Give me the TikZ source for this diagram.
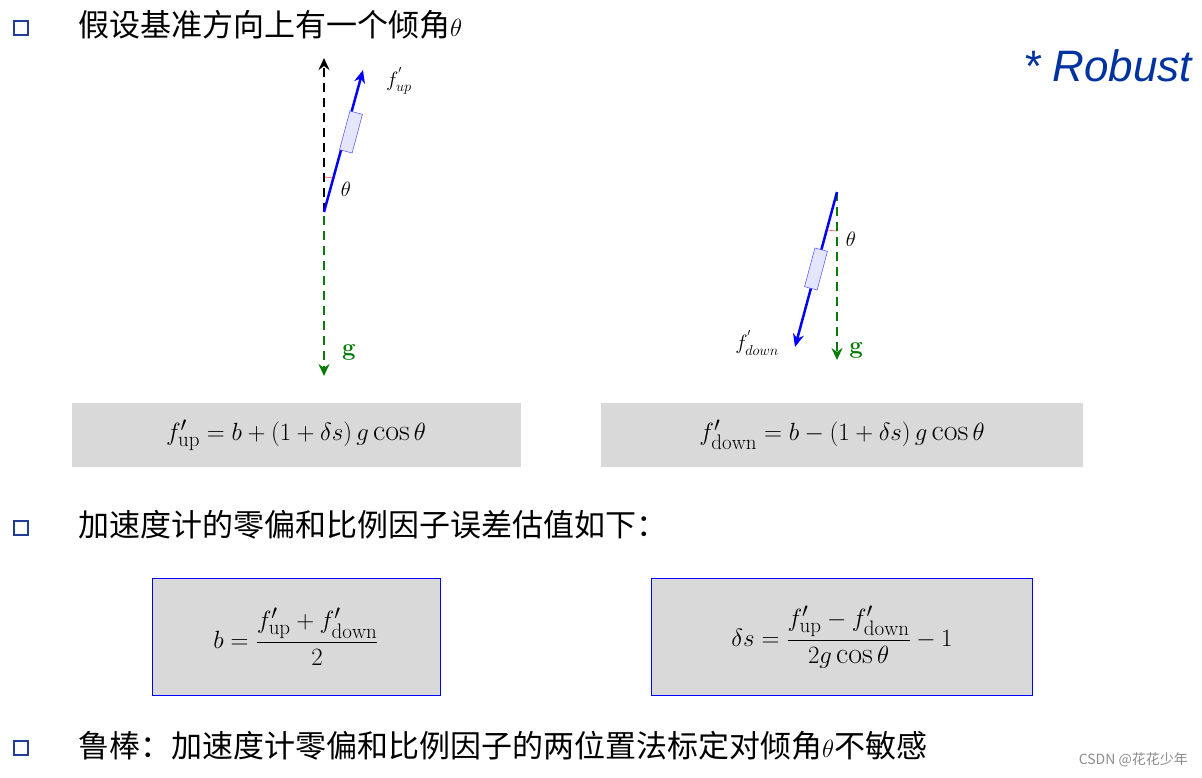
\documentclass[tikz,border=0pt]{standalone}
\usepackage{amsmath}
\usepackage{fontspec}
\newfontfamily\cjk{Noto Sans CJK SC}
\newfontfamily\lib{Liberation Sans}
\usetikzlibrary{arrows.meta}
\definecolor{bblue}{HTML}{1F3C9A}
\definecolor{rblue}{HTML}{0033A0}
\definecolor{gg}{HTML}{0A7A0A}
\begin{document}
\begin{tikzpicture}[x=1pt,y=-1pt,
  bul/.style={draw=bblue,line width=2.2pt,minimum size=14pt,inner sep=0pt},
  txt/.style={anchor=west,font=\cjk\fontsize{31}{36}\selectfont,inner sep=0pt},
  frm/.style={fill=black!15,inner sep=0pt},
  beq/.style={fill=black!15,draw=blue,line width=0.8pt,inner sep=0pt},
  dsh/.style={dash pattern=on 9pt off 6pt,line width=2pt},
  fv/.style={blue,line width=2.5pt,-{Stealth[length=13pt,width=11pt]}},
  sens/.style={draw=blue!70,fill=blue!10,line width=0.5pt,minimum width=13pt,minimum height=40pt,inner sep=0pt},
  lab/.style={font=\fontsize{22}{24}\selectfont,inner sep=0pt}]
\useasboundingbox (0,0) rectangle (1202,777);
% bullets
\node[bul] (b1) at (21,28) {};
\node[bul] (b2) at (21,528) {};
\node[bul] (b3) at (21,748) {};
\node[txt] (t1) at (78,25) {假设基准方向上有一个倾角$\theta$};
\node[txt] (t2) at (78,525) {加速度计的零偏和比例因子误差估值如下：};
\node[txt] (t3) at (78,746) {鲁棒：加速度计零偏和比例因子的两位置法标定对倾角$\theta$不敏感};
\node[anchor=east,text=rblue,font=\lib\itshape\fontsize{44}{48}\selectfont,inner sep=0pt] (rob) at (1192,66) {* Robust};
\node[anchor=east,text=black!45,font=\cjk\fontsize{14}{16}\selectfont,inner sep=0pt] (wm) at (1188,760) {CSDN @花花少年};
% left diagram
\coordinate (o1) at (324,212);
\coordinate (up) at (324,58);
\coordinate (fu) at (363,70);
\coordinate (g1s) at (324,216);
\coordinate (g1) at (324,376);
\draw[dsh,-{Stealth[length=12pt,width=11pt]}] (o1) -- (up);
\draw[dsh,gg,-{Stealth[length=12pt,width=11pt]}] (g1s) -- (g1);
\draw[fv] (o1) -- (fu);
\node[sens,rotate=-15] (s1) at (351,132) {};
\draw[red,line width=0.4pt] (324,177) arc[start angle=-90,end angle=-75,radius=35];
\node[lab] (th1) at (346,189) {$\theta$};
\node[lab] (fl1) at (399,81) {$f^{'}_{up}$};
\node[gg,font=\bfseries\fontsize{24}{26}\selectfont,inner sep=0pt] (gl1) at (349,352) {g};
% right diagram
\coordinate (o2) at (837,192);
\coordinate (g2) at (837,360);
\coordinate (fd) at (795,347);
\draw[dsh,gg,-{Stealth[length=12pt,width=11pt]}] (o2) -- (g2);
\draw[fv] (o2) -- (fd);
\node[sens,rotate=-15] (s2) at (816,269) {};
\draw[red,line width=0.4pt] (837,231) arc[start angle=90,end angle=105,radius=38];
\node[lab] (th2) at (851,239) {$\theta$};
\node[lab] (fl2) at (757,343) {$f^{'}_{down}$};
\node[gg,font=\bfseries\fontsize{24}{26}\selectfont,inner sep=0pt] (gl2) at (856,350) {g};
% formulas
\node[frm,minimum width=449pt,minimum height=64pt] (e1) at (296,435) {\fontsize{30}{36}\selectfont$f'_{\mathrm{up}}=b+(1+\delta s)\,g\cos\theta$};
\node[frm,minimum width=482pt,minimum height=64pt] (e2) at (842,435) {\fontsize{30}{36}\selectfont$f'_{\mathrm{down}}=b-(1+\delta s)\,g\cos\theta$};
\node[beq,minimum width=288pt,minimum height=117pt] (e3) at (296,637) {\fontsize{30}{36}\selectfont$b=\dfrac{f'_{\mathrm{up}}+f'_{\mathrm{down}}}{2}$};
\node[beq,minimum width=381pt,minimum height=117pt] (e4) at (842,637) {\fontsize{30}{36}\selectfont$\delta s=\dfrac{f'_{\mathrm{up}}-f'_{\mathrm{down}}}{2g\cos\theta}-1$};
\end{tikzpicture}
\end{document}
